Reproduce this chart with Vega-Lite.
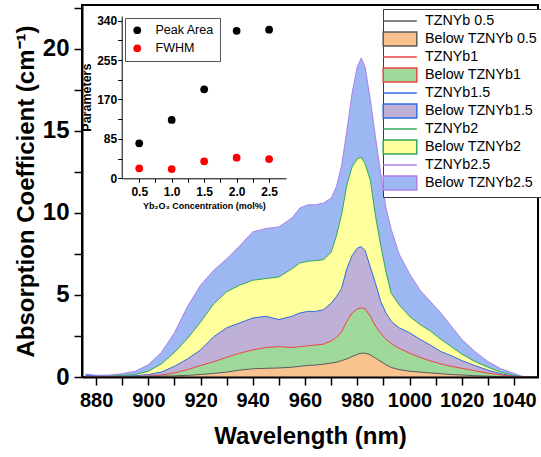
{
  "$schema": "https://vega.github.io/schema/vega-lite/v6.json",
  "width": 456,
  "height": 372,
  "autosize": "none",
  "padding": {"left": 82, "top": 5, "right": 3, "bottom": 80},
  "background": "white",
  "config": {
    "font": "Liberation Sans",
    "view": {"stroke": "black", "strokeWidth": 2},
    "axis": {"grid": false, "labelColor": "black", "titleColor": "black", "tickColor": "black", "domainColor": "black"}
  },
  "datasets": {
    "spectra": [
      {"w":876,"s":"Below TZNYb2.5","v":0.18},{"w":880,"s":"Below TZNYb2.5","v":0.1},{"w":885,"s":"Below TZNYb2.5","v":0.12},{"w":890,"s":"Below TZNYb2.5","v":0.2},{"w":895,"s":"Below TZNYb2.5","v":0.35},{"w":900,"s":"Below TZNYb2.5","v":0.75},{"w":905,"s":"Below TZNYb2.5","v":1.5},{"w":910,"s":"Below TZNYb2.5","v":2.7},{"w":915,"s":"Below TZNYb2.5","v":4.3},{"w":920,"s":"Below TZNYb2.5","v":5.6},{"w":925,"s":"Below TZNYb2.5","v":6.5},{"w":930,"s":"Below TZNYb2.5","v":7.2},{"w":935,"s":"Below TZNYb2.5","v":8.0},{"w":940,"s":"Below TZNYb2.5","v":8.85},{"w":945,"s":"Below TZNYb2.5","v":9.05},{"w":950,"s":"Below TZNYb2.5","v":9.15},{"w":955,"s":"Below TZNYb2.5","v":9.7},{"w":958,"s":"Below TZNYb2.5","v":10.3},{"w":961,"s":"Below TZNYb2.5","v":10.5},{"w":964,"s":"Below TZNYb2.5","v":10.5},{"w":967,"s":"Below TZNYb2.5","v":10.6},{"w":970,"s":"Below TZNYb2.5","v":10.9},{"w":972,"s":"Below TZNYb2.5","v":11.6},{"w":974,"s":"Below TZNYb2.5","v":12.9},{"w":976,"s":"Below TZNYb2.5","v":15.0},{"w":978,"s":"Below TZNYb2.5","v":17.3},{"w":980,"s":"Below TZNYb2.5","v":18.9},{"w":981.5,"s":"Below TZNYb2.5","v":19.45},{"w":983,"s":"Below TZNYb2.5","v":18.9},{"w":985,"s":"Below TZNYb2.5","v":16.9},{"w":987,"s":"Below TZNYb2.5","v":14.6},{"w":989,"s":"Below TZNYb2.5","v":12.4},{"w":991,"s":"Below TZNYb2.5","v":10.3},{"w":993,"s":"Below TZNYb2.5","v":9.0},{"w":996,"s":"Below TZNYb2.5","v":7.5},{"w":1000,"s":"Below TZNYb2.5","v":6.3},{"w":1004,"s":"Below TZNYb2.5","v":5.3},{"w":1008,"s":"Below TZNYb2.5","v":4.6},{"w":1012,"s":"Below TZNYb2.5","v":3.9},{"w":1016,"s":"Below TZNYb2.5","v":3.1},{"w":1020,"s":"Below TZNYb2.5","v":2.3},{"w":1025,"s":"Below TZNYb2.5","v":1.55},{"w":1030,"s":"Below TZNYb2.5","v":0.95},{"w":1035,"s":"Below TZNYb2.5","v":0.5},{"w":1040,"s":"Below TZNYb2.5","v":0.22},{"w":1043,"s":"Below TZNYb2.5","v":0.05},{"w":1046,"s":"Below TZNYb2.5","v":0},{"w":1049,"s":"Below TZNYb2.5","v":0},

      {"w":876,"s":"Below TZNYb2","v":0.05},{"w":880,"s":"Below TZNYb2","v":0.03},{"w":885,"s":"Below TZNYb2","v":0.05},{"w":890,"s":"Below TZNYb2","v":0.1},{"w":895,"s":"Below TZNYb2","v":0.15},{"w":900,"s":"Below TZNYb2","v":0.35},{"w":905,"s":"Below TZNYb2","v":0.8},{"w":910,"s":"Below TZNYb2","v":1.5},{"w":915,"s":"Below TZNYb2","v":2.35},{"w":920,"s":"Below TZNYb2","v":3.35},{"w":925,"s":"Below TZNYb2","v":4.45},{"w":930,"s":"Below TZNYb2","v":5.2},{"w":935,"s":"Below TZNYb2","v":5.6},{"w":940,"s":"Below TZNYb2","v":5.9},{"w":945,"s":"Below TZNYb2","v":6.0},{"w":950,"s":"Below TZNYb2","v":6.1},{"w":955,"s":"Below TZNYb2","v":6.6},{"w":958,"s":"Below TZNYb2","v":6.95},{"w":961,"s":"Below TZNYb2","v":7.05},{"w":964,"s":"Below TZNYb2","v":7.1},{"w":967,"s":"Below TZNYb2","v":7.15},{"w":970,"s":"Below TZNYb2","v":7.6},{"w":972,"s":"Below TZNYb2","v":8.6},{"w":974,"s":"Below TZNYb2","v":9.9},{"w":976,"s":"Below TZNYb2","v":11.7},{"w":978,"s":"Below TZNYb2","v":12.8},{"w":980,"s":"Below TZNYb2","v":13.3},{"w":981.5,"s":"Below TZNYb2","v":13.4},{"w":983,"s":"Below TZNYb2","v":13.0},{"w":985,"s":"Below TZNYb2","v":12.0},{"w":987,"s":"Below TZNYb2","v":9.8},{"w":989,"s":"Below TZNYb2","v":8.0},{"w":991,"s":"Below TZNYb2","v":6.4},{"w":993,"s":"Below TZNYb2","v":5.1},{"w":996,"s":"Below TZNYb2","v":4.4},{"w":1000,"s":"Below TZNYb2","v":3.7},{"w":1004,"s":"Below TZNYb2","v":3.2},{"w":1008,"s":"Below TZNYb2","v":2.8},{"w":1012,"s":"Below TZNYb2","v":2.3},{"w":1016,"s":"Below TZNYb2","v":1.85},{"w":1020,"s":"Below TZNYb2","v":1.4},{"w":1025,"s":"Below TZNYb2","v":0.95},{"w":1030,"s":"Below TZNYb2","v":0.6},{"w":1035,"s":"Below TZNYb2","v":0.3},{"w":1040,"s":"Below TZNYb2","v":0.1},{"w":1043,"s":"Below TZNYb2","v":0.02},{"w":1046,"s":"Below TZNYb2","v":0},{"w":1049,"s":"Below TZNYb2","v":0},

      {"w":876,"s":"Below TZNYb1.5","v":0.1},{"w":880,"s":"Below TZNYb1.5","v":0.05},{"w":885,"s":"Below TZNYb1.5","v":0.03},{"w":890,"s":"Below TZNYb1.5","v":0.05},{"w":895,"s":"Below TZNYb1.5","v":0.08},{"w":900,"s":"Below TZNYb1.5","v":0.15},{"w":905,"s":"Below TZNYb1.5","v":0.3},{"w":910,"s":"Below TZNYb1.5","v":0.65},{"w":915,"s":"Below TZNYb1.5","v":1.1},{"w":920,"s":"Below TZNYb1.5","v":1.65},{"w":925,"s":"Below TZNYb1.5","v":2.45},{"w":930,"s":"Below TZNYb1.5","v":3.0},{"w":935,"s":"Below TZNYb1.5","v":3.3},{"w":940,"s":"Below TZNYb1.5","v":3.6},{"w":945,"s":"Below TZNYb1.5","v":3.7},{"w":950,"s":"Below TZNYb1.5","v":3.5},{"w":955,"s":"Below TZNYb1.5","v":3.7},{"w":958,"s":"Below TZNYb1.5","v":3.9},{"w":961,"s":"Below TZNYb1.5","v":4.0},{"w":964,"s":"Below TZNYb1.5","v":4.0},{"w":967,"s":"Below TZNYb1.5","v":4.1},{"w":970,"s":"Below TZNYb1.5","v":4.5},{"w":972,"s":"Below TZNYb1.5","v":4.9},{"w":974,"s":"Below TZNYb1.5","v":5.4},{"w":976,"s":"Below TZNYb1.5","v":6.6},{"w":978,"s":"Below TZNYb1.5","v":7.4},{"w":980,"s":"Below TZNYb1.5","v":7.85},{"w":981.5,"s":"Below TZNYb1.5","v":7.95},{"w":983,"s":"Below TZNYb1.5","v":7.7},{"w":985,"s":"Below TZNYb1.5","v":6.7},{"w":987,"s":"Below TZNYb1.5","v":5.7},{"w":989,"s":"Below TZNYb1.5","v":4.6},{"w":991,"s":"Below TZNYb1.5","v":3.9},{"w":993,"s":"Below TZNYb1.5","v":3.4},{"w":996,"s":"Below TZNYb1.5","v":3.0},{"w":1000,"s":"Below TZNYb1.5","v":2.7},{"w":1004,"s":"Below TZNYb1.5","v":2.3},{"w":1008,"s":"Below TZNYb1.5","v":1.95},{"w":1012,"s":"Below TZNYb1.5","v":1.55},{"w":1016,"s":"Below TZNYb1.5","v":1.3},{"w":1020,"s":"Below TZNYb1.5","v":1.0},{"w":1025,"s":"Below TZNYb1.5","v":0.7},{"w":1030,"s":"Below TZNYb1.5","v":0.42},{"w":1035,"s":"Below TZNYb1.5","v":0.2},{"w":1040,"s":"Below TZNYb1.5","v":0.05},{"w":1043,"s":"Below TZNYb1.5","v":0},{"w":1046,"s":"Below TZNYb1.5","v":0},{"w":1049,"s":"Below TZNYb1.5","v":0},

      {"w":876,"s":"Below TZNYb1","v":0.03},{"w":880,"s":"Below TZNYb1","v":0.02},{"w":885,"s":"Below TZNYb1","v":0.02},{"w":890,"s":"Below TZNYb1","v":0.03},{"w":895,"s":"Below TZNYb1","v":0.04},{"w":900,"s":"Below TZNYb1","v":0.06},{"w":905,"s":"Below TZNYb1","v":0.12},{"w":910,"s":"Below TZNYb1","v":0.25},{"w":915,"s":"Below TZNYb1","v":0.45},{"w":920,"s":"Below TZNYb1","v":0.7},{"w":925,"s":"Below TZNYb1","v":0.93},{"w":930,"s":"Below TZNYb1","v":1.2},{"w":935,"s":"Below TZNYb1","v":1.45},{"w":940,"s":"Below TZNYb1","v":1.65},{"w":945,"s":"Below TZNYb1","v":1.8},{"w":950,"s":"Below TZNYb1","v":1.85},{"w":955,"s":"Below TZNYb1","v":1.8},{"w":958,"s":"Below TZNYb1","v":1.85},{"w":961,"s":"Below TZNYb1","v":1.9},{"w":964,"s":"Below TZNYb1","v":1.95},{"w":967,"s":"Below TZNYb1","v":2.0},{"w":970,"s":"Below TZNYb1","v":2.2},{"w":972,"s":"Below TZNYb1","v":2.4},{"w":974,"s":"Below TZNYb1","v":2.75},{"w":976,"s":"Below TZNYb1","v":3.4},{"w":978,"s":"Below TZNYb1","v":3.9},{"w":980,"s":"Below TZNYb1","v":4.15},{"w":981.5,"s":"Below TZNYb1","v":4.22},{"w":983,"s":"Below TZNYb1","v":4.15},{"w":985,"s":"Below TZNYb1","v":3.7},{"w":987,"s":"Below TZNYb1","v":3.1},{"w":989,"s":"Below TZNYb1","v":2.65},{"w":991,"s":"Below TZNYb1","v":2.3},{"w":993,"s":"Below TZNYb1","v":2.05},{"w":996,"s":"Below TZNYb1","v":1.75},{"w":1000,"s":"Below TZNYb1","v":1.45},{"w":1004,"s":"Below TZNYb1","v":1.2},{"w":1008,"s":"Below TZNYb1","v":0.98},{"w":1012,"s":"Below TZNYb1","v":0.8},{"w":1016,"s":"Below TZNYb1","v":0.65},{"w":1020,"s":"Below TZNYb1","v":0.53},{"w":1025,"s":"Below TZNYb1","v":0.38},{"w":1030,"s":"Below TZNYb1","v":0.24},{"w":1035,"s":"Below TZNYb1","v":0.12},{"w":1040,"s":"Below TZNYb1","v":0.04},{"w":1043,"s":"Below TZNYb1","v":0},{"w":1046,"s":"Below TZNYb1","v":0},{"w":1049,"s":"Below TZNYb1","v":0},

      {"w":876,"s":"Below TZNYb 0.5","v":0},{"w":880,"s":"Below TZNYb 0.5","v":0},{"w":885,"s":"Below TZNYb 0.5","v":0},{"w":890,"s":"Below TZNYb 0.5","v":0.01},{"w":895,"s":"Below TZNYb 0.5","v":0.02},{"w":900,"s":"Below TZNYb 0.5","v":0.03},{"w":905,"s":"Below TZNYb 0.5","v":0.05},{"w":910,"s":"Below TZNYb 0.5","v":0.07},{"w":915,"s":"Below TZNYb 0.5","v":0.1},{"w":920,"s":"Below TZNYb 0.5","v":0.15},{"w":925,"s":"Below TZNYb 0.5","v":0.22},{"w":930,"s":"Below TZNYb 0.5","v":0.3},{"w":935,"s":"Below TZNYb 0.5","v":0.42},{"w":940,"s":"Below TZNYb 0.5","v":0.5},{"w":945,"s":"Below TZNYb 0.5","v":0.53},{"w":950,"s":"Below TZNYb 0.5","v":0.55},{"w":955,"s":"Below TZNYb 0.5","v":0.6},{"w":958,"s":"Below TZNYb 0.5","v":0.65},{"w":961,"s":"Below TZNYb 0.5","v":0.7},{"w":964,"s":"Below TZNYb 0.5","v":0.73},{"w":967,"s":"Below TZNYb 0.5","v":0.78},{"w":970,"s":"Below TZNYb 0.5","v":0.85},{"w":972,"s":"Below TZNYb 0.5","v":0.9},{"w":974,"s":"Below TZNYb 0.5","v":1.0},{"w":976,"s":"Below TZNYb 0.5","v":1.1},{"w":978,"s":"Below TZNYb 0.5","v":1.25},{"w":980,"s":"Below TZNYb 0.5","v":1.38},{"w":981.5,"s":"Below TZNYb 0.5","v":1.45},{"w":983,"s":"Below TZNYb 0.5","v":1.45},{"w":985,"s":"Below TZNYb 0.5","v":1.35},{"w":987,"s":"Below TZNYb 0.5","v":1.15},{"w":989,"s":"Below TZNYb 0.5","v":0.95},{"w":991,"s":"Below TZNYb 0.5","v":0.75},{"w":993,"s":"Below TZNYb 0.5","v":0.58},{"w":996,"s":"Below TZNYb 0.5","v":0.45},{"w":1000,"s":"Below TZNYb 0.5","v":0.35},{"w":1004,"s":"Below TZNYb 0.5","v":0.3},{"w":1008,"s":"Below TZNYb 0.5","v":0.25},{"w":1012,"s":"Below TZNYb 0.5","v":0.2},{"w":1016,"s":"Below TZNYb 0.5","v":0.15},{"w":1020,"s":"Below TZNYb 0.5","v":0.12},{"w":1025,"s":"Below TZNYb 0.5","v":0.08},{"w":1030,"s":"Below TZNYb 0.5","v":0.05},{"w":1035,"s":"Below TZNYb 0.5","v":0.02},{"w":1040,"s":"Below TZNYb 0.5","v":0},{"w":1043,"s":"Below TZNYb 0.5","v":0},{"w":1046,"s":"Below TZNYb 0.5","v":0},{"w":1049,"s":"Below TZNYb 0.5","v":0}
    ],
    "inset": [
      {"c":0.5,"p":"Peak Area","v":75.5},{"c":1.0,"p":"Peak Area","v":125.8},{"c":1.5,"p":"Peak Area","v":192},{"c":2.0,"p":"Peak Area","v":318},{"c":2.5,"p":"Peak Area","v":320.5},
      {"c":0.5,"p":"FWHM","v":21.5},{"c":1.0,"p":"FWHM","v":20},{"c":1.5,"p":"FWHM","v":36.7},{"c":2.0,"p":"FWHM","v":44.5},{"c":2.5,"p":"FWHM","v":41.6}
    ]
  },
  "layer": [
    {
      "data": {"name": "spectra"},
      "encoding": {
        "x": {"field": "w", "type": "quantitative",
          "scale": {"domain": [874.6, 1049.2], "nice": false, "zero": false},
          "axis": {"values": [880,890,900,910,920,930,940,950,960,970,980,990,1000,1010,1020,1030,1040],
            "format": "d", "labelExpr": "datum.value % 20 === 0 ? datum.label : ''",
            "title": "Wavelength (nm)", "titleFontSize": 24, "titleFontWeight": "bold", "titlePadding": 14,
            "labelFontSize": 20, "labelFontWeight": "bold", "labelPadding": 5, "labelFlush": false, "labelOverlap": false,
            "tickSize": 8, "tickWidth": 1.5, "domainWidth": 2, "zindex": 1,
            "encode": {"ticks": {"update": {"y2": {"signal": "datum.value % 20 === 0 ? 8 : 5"}}}}}},
        "y": {"field": "v", "type": "quantitative", "stack": null,
          "scale": {"domain": [0, 22.68], "nice": false, "zero": false},
          "axis": {"values": [0,2.5,5,7.5,10,12.5,15,17.5,20,22.5],
            "labelExpr": "datum.value % 5 === 0 ? datum.label : ''",
            "title": "Absorption Coefficient (cm⁻¹)", "titleFontSize": 24, "titleFontWeight": "bold", "titlePadding": 4,
            "labelFontSize": 24, "labelFontWeight": "bold", "labelPadding": 5, "labelOverlap": false,
            "tickSize": 8, "tickWidth": 1.5, "domainWidth": 2, "zindex": 1,
            "encode": {"ticks": {"update": {"x2": {"signal": "datum.value % 5 === 0 ? -8 : -5"}}}}}}
      },
      "layer": [
        {
          "mark": {"type": "area", "opacity": 1},
          "encoding": {
            "fill": {"field": "s", "type": "nominal",
              "scale": {"domain": ["TZNYb 0.5","Below TZNYb 0.5","TZNYb1","Below TZNYb1","TZNYb1.5","Below TZNYb1.5","TZNYb2","Below TZNYb2","TZNYb2.5","Below TZNYb2.5"],
                "range": ["transparent","#F9C38F","transparent","#9ED89A","transparent","#BEB0D6","transparent","#FFFF9E","transparent","#9CB7F1"]},
              "legend": {"orient": "none", "legendX": 301, "legendY": 4, "title": null,
                "labelFont": "Liberation Sans", "labelFontSize": 14.3, "labelColor": "black",
                "symbolSize": 196, "symbolStrokeWidth": 1.5, "strokeColor": "#3a3a3a", "fillColor": "white",
                "padding": 4, "rowPadding": 0, "symbolOffset": 5, "labelOffset": 17,
                "encode": {"symbols": {"update": {
                  "shape": {"signal": "indexof(datum.value, 'Below') === 0 ? 'M-2.4,-1H2.4V1H-2.4Z' : 'M-2.4,0H2.4'"},
                  "fill": {"signal": "['transparent','#F9C38F','transparent','#9ED89A','transparent','#BEB0D6','transparent','#FFFF9E','transparent','#9CB7F1'][indexof(['TZNYb 0.5','Below TZNYb 0.5','TZNYb1','Below TZNYb1','TZNYb1.5','Below TZNYb1.5','TZNYb2','Below TZNYb2','TZNYb2.5','Below TZNYb2.5'], datum.value)]"},
                  "stroke": {"signal": "['#8a8a8a','#8a8a8a','#F25555','#F25555','#2F6BE0','#2F6BE0','#2EAA5A','#2EAA5A','#B88AEE','#B88AEE'][indexof(['TZNYb 0.5','Below TZNYb 0.5','TZNYb1','Below TZNYb1','TZNYb1.5','Below TZNYb1.5','TZNYb2','Below TZNYb2','TZNYb2.5','Below TZNYb2.5'], datum.value)]"},
                  "opacity": {"value": 1}}}}}}
          }
        },
        {
          "mark": {"type": "line", "strokeWidth": 1},
          "encoding": {
            "stroke": {"field": "s", "type": "nominal",
              "scale": {"domain": ["TZNYb 0.5","Below TZNYb 0.5","TZNYb1","Below TZNYb1","TZNYb1.5","Below TZNYb1.5","TZNYb2","Below TZNYb2","TZNYb2.5","Below TZNYb2.5"],
                "range": ["#5a5a5a","#5a5a5a","#EE4444","#EE4444","#2F6BE0","#2F6BE0","#2EAA5A","#2EAA5A","#B07EEA","#B07EEA"]},
              "legend": {"orient": "none", "legendX": 301, "legendY": 4, "title": null,
                "labelFont": "Liberation Sans", "labelFontSize": 14.3, "labelColor": "black",
                "symbolSize": 196, "symbolStrokeWidth": 1.5, "strokeColor": "#3a3a3a", "fillColor": "white",
                "padding": 4, "rowPadding": 0, "symbolOffset": 5, "labelOffset": 17,
                "encode": {"symbols": {"update": {
                  "shape": {"signal": "indexof(datum.value, 'Below') === 0 ? 'M-2.4,-1H2.4V1H-2.4Z' : 'M-2.4,0H2.4'"},
                  "fill": {"signal": "['transparent','#F9C38F','transparent','#9ED89A','transparent','#BEB0D6','transparent','#FFFF9E','transparent','#9CB7F1'][indexof(['TZNYb 0.5','Below TZNYb 0.5','TZNYb1','Below TZNYb1','TZNYb1.5','Below TZNYb1.5','TZNYb2','Below TZNYb2','TZNYb2.5','Below TZNYb2.5'], datum.value)]"},
                  "stroke": {"signal": "['#8a8a8a','#8a8a8a','#F25555','#F25555','#2F6BE0','#2F6BE0','#2EAA5A','#2EAA5A','#B88AEE','#B88AEE'][indexof(['TZNYb 0.5','Below TZNYb 0.5','TZNYb1','Below TZNYb1','TZNYb1.5','Below TZNYb1.5','TZNYb2','Below TZNYb2','TZNYb2.5','Below TZNYb2.5'], datum.value)]"},
                  "opacity": {"value": 1}}}}}}
          }
        }
      ]
    },
    {
      "data": {"name": "inset"},
      "encoding": {
        "x": {"field": "c", "type": "quantitative",
          "scale": {"domain": [0.23, 2.76], "range": [39.7, 204], "nice": false, "zero": false},
          "axis": {"orient": "bottom", "offset": -198.7,
            "values": [0.5,0.75,1,1.25,1.5,1.75,2,2.25,2.5], "format": ".1f",
            "labelExpr": "(datum.value * 2) % 1 === 0 ? datum.label : ''",
            "title": "Yb₂O₃ Concentration (mol%)", "titleFontSize": 9, "titleFontWeight": "bold", "titlePadding": 4,
            "labelFontSize": 12, "labelFontWeight": "bold", "labelPadding": 4, "labelFlush": false, "labelOverlap": false,
            "tickSize": 4, "tickWidth": 1, "domainWidth": 1, "zindex": 1,
            "encode": {"ticks": {"update": {"y2": {"signal": "(datum.value * 2) % 1 === 0 ? 4 : 2"}}}}}},
        "y": {"field": "v", "type": "quantitative",
          "scale": {"domain": [0, 350], "range": [173.3, 11], "nice": false, "zero": false},
          "axis": {"orient": "left", "offset": -39.7,
            "values": [0,42.5,85,127.5,170,212.5,255,297.5,340],
            "labelExpr": "datum.value % 85 === 0 ? datum.label : ''",
            "title": "Parameters", "titleFontSize": 12.5, "titleFontWeight": "bold", "titlePadding": 3,
            "labelFontSize": 12, "labelFontWeight": "bold", "labelPadding": 1, "labelOverlap": false,
            "tickSize": 4, "tickWidth": 1, "domainWidth": 1, "zindex": 1,
            "encode": {"ticks": {"update": {"x2": {"signal": "datum.value % 85 === 0 ? -4 : -2"}}}}}}
      },
      "layer": [
        {
          "mark": {"type": "point", "filled": true, "size": 60, "opacity": 1},
          "encoding": {
            "color": {"field": "p", "type": "nominal",
              "scale": {"domain": ["Peak Area", "FWHM"], "range": ["black", "#FF0000"]},
              "legend": {"orient": "none", "legendX": 43, "legendY": 13, "title": null,
                "symbolType": "circle", "symbolSize": 60, "labelFont": "Liberation Sans", "labelFontSize": 12.5, "labelColor": "black",
                "strokeColor": "#555", "fillColor": "white", "padding": 6, "rowPadding": 5, "labelOffset": 12}}
          }
        },
        {
          "data": {"values": [{}]},
          "mark": {"type": "rule", "color": "black", "strokeWidth": 1},
          "encoding": {"x": {"datum": 2.76}, "y": {"datum": 0}, "y2": {"datum": 350}}
        }
      ]
    }
  ],
  "resolve": {"scale": {"x": "independent", "y": "independent"}, "axis": {"x": "independent", "y": "independent"}}
}
